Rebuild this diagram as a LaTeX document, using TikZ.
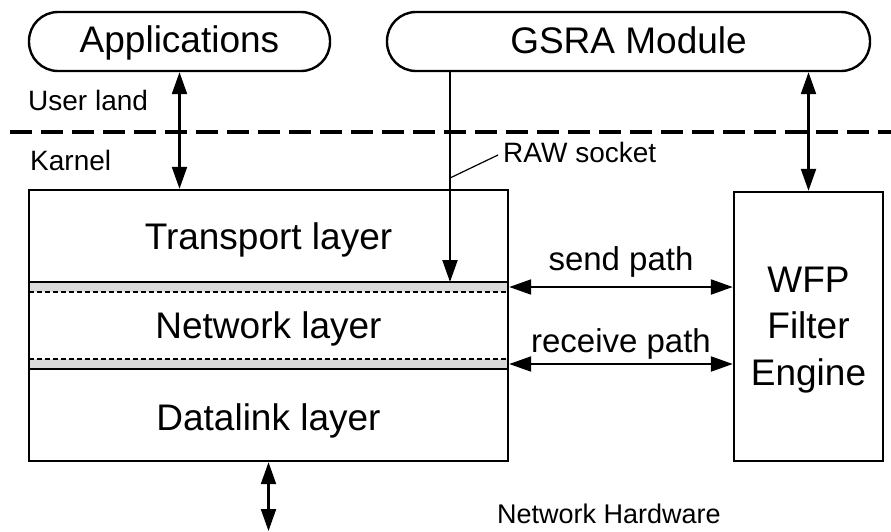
\documentclass[tikz,border=0pt]{standalone}
\usepackage{fontspec}
\setmainfont{Liberation Sans}
\usetikzlibrary{arrows.meta}

\definecolor{bandgray}{RGB}{218,218,218}

\tikzset{
  pill/.style={draw, line width=2.4pt, rounded corners=29pt, minimum height=59pt, inner sep=0pt},
  layerbox/.style={draw, line width=2.4pt, inner sep=0pt},
  bigtxt/.style={font=\fontsize{37}{46}\selectfont, inner sep=0pt, anchor=base},
  midtxt/.style={font=\fontsize{33}{40}\selectfont, inner sep=0pt, anchor=base},
  smalltxt/.style={font=\fontsize{28}{34}\selectfont, inner sep=0pt, anchor=base west},
  link/.style={line width=2.2pt, {Triangle[length=22pt,width=15pt]}-{Triangle[length=22pt,width=15pt]}},
  onelink/.style={line width=2.2pt, -{Triangle[length=22pt,width=15pt]}},
}

\begin{document}
\begin{tikzpicture}[x=1pt, y=-1pt]
    \useasboundingbox (0,0) rectangle (891,531);

    % User land modules
    \node[pill, minimum width=301pt] (apps) at (179.5,41.5) {};
    \node[bigtxt] (appstxt) at (179.5,52) {Applications};
    \node[pill, minimum width=483pt] (gsra) at (628.5,41.5) {};
    \node[bigtxt] (gsratxt) at (628.5,53) {GSRA Module};

    % User land / kernel boundary
    \draw[line width=4pt, dash pattern=on 22pt off 9pt] (10,132) -- (891,132);
    \node[smalltxt] (user) at (28,110) {User land};
    \node[smalltxt] (kern) at (30,170) {Karnel};

    % Protocol stack
    \fill[bandgray] (29,282) rectangle (508,292);
    \fill[bandgray] (29,359) rectangle (508,369);
    \draw[line width=2.4pt] (29,282) -- (508,282);
    \draw[line width=1.6pt, dash pattern=on 5pt off 3pt] (29,292) -- (508,292);
    \draw[line width=1.6pt, dash pattern=on 5pt off 3pt] (29,359) -- (508,359);
    \draw[line width=2.4pt] (29,369) -- (508,369);
    \node[layerbox, minimum width=479pt, minimum height=271pt] (stack) at (268.5,325.5) {};
    \node[bigtxt] (tl) at (268.5,249) {Transport layer};
    \node[bigtxt] (nl) at (268.5,338) {Network layer};
    \node[bigtxt] (dl) at (268.5,430) {Datalink layer};

    % Filter engine
    \node[layerbox, minimum width=149pt, minimum height=269pt] (wfp) at (808.5,326.5) {};
    \node[bigtxt] (wfp1) at (808.5,292) {WFP};
    \node[bigtxt] (wfp2) at (808.5,338) {Filter};
    \node[bigtxt] (wfp3) at (808.5,385) {Engine};

    % Connections
    \coordinate (raw) at (450,282);
    \coordinate (send) at (600,287);
    \coordinate (recv) at (600,364);
    \coordinate (hw) at (268.5,531);
    \draw[link] (apps.south) -- (apps.south |- stack.north);
    \draw[onelink] (gsra.south -| raw) -- (raw);
    \draw[link] (gsra.south -| wfp.north) -- (wfp.north);
    \draw[link] (stack.east |- send) -- (wfp.west |- send);
    \draw[link] (stack.east |- recv) -- (wfp.west |- recv);
    \draw[link] (stack.south) -- (hw);

    % Labels
    \coordinate (rawtip) at (450,178);
    \node[smalltxt] (rawtxt) at (503,162) {RAW socket};
    \draw[line width=1.2pt] (rawtip) -- (498,155);
    \node[midtxt] (sendtxt) at (621,270) {send path};
    \node[midtxt] (recvtxt) at (621,352) {receive path};
    \node[smalltxt, font=\fontsize{27}{32}\selectfont] (hwtxt) at (497,523) {Network Hardware};
\end{tikzpicture}
\end{document}
